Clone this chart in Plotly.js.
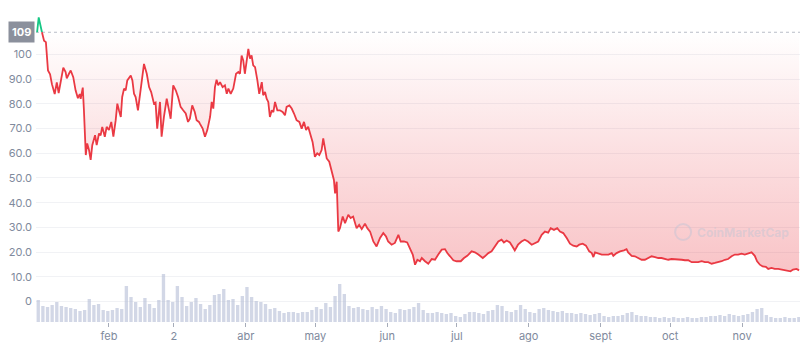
<!DOCTYPE html>
<html>
<head>
<meta charset="utf-8">
<script src="https://cdn.plot.ly/plotly-3.0.1.min.js"></script>
<style>html,body{margin:0;padding:0;background:#fff;}#chart{width:800px;height:344px;}</style>
</head>
<body>
<div id="chart"></div>
<script>
// Price series: day offset from 2022-01-01 and price
const priceDays = [0,0.7,2.1,3,3.8,4.7,5.6,6.4,7.6,8.5,
9.3,10.2,11.3,12.3,12.8,13.8,14.5,15.6,16.6,17.6,
18.4,18.8,19.7,20.2,21,21.6,22.4,23.1,23.8,25,
25.7,26.7,27.4,28.1,29.2,30,31,32,32.9,33.9,
34.6,35.3,36.1,36.7,37.5,38.2,38.9,40.4,41.1,41.8,
42.5,43.5,44.4,45.1,46.1,47.3,48.3,49.2,50.4,51.1,
51.8,53,53.7,54.7,55.9,56.9,57.6,58.7,59.8,60.8,
61.9,63,64.1,65.1,65.9,66.9,68,68.8,69.8,
70.2,71.4,72.4,73.4,74.6,75.3,76,76.7,77.4,78.1,
78.9,80,81,81.8,82.5,83.5,84.6,85.8,86.8,87.5,
88.2,88.9,89.6,90.4,91.1,91.8,92.5,93.2,94,95,
95.8,96.9,97.5,98.3,99,99.7,100.4,101.2,101.9,102.6,
103.6,104.7,105.9,106.9,107.6,108.8,109.8,110.8,111.9,113.1,
114.1,115.1,116,116.9,117.7,118.8,119.8,120.8,121.7,122.7,
123.4,124.1,124.9,126,127,128,128.5,129.2,129.9,130.6,
131.8,132.8,134.2,135.2,136.3,137.8,138.9,140,141.4,142.4,
143.6,145,146.4,147.9,149.3,150.5,151.4,152.9,154.3,155.8,
156.8,158.2,159.6,160.8,162,163,164,165.1,165.9,167.3,
168.7,170.2,171.6,173,174.5,175.9,176.9,178.1,179.5,180.9,
182.7,184.1,185.5,187.4,188.8,190.3,192.2,193.1,194.6,196,
197.5,198.9,200.3,201.3,202.5,203.9,205,206,207.4,208.9,
210.3,211.7,213.3,214.7,216.1,217.6,219,220.4,221.5,222.9,
224.3,225.5,226.9,228.4,229.8,231.2,232.7,233.8,235.3,236.7,
238.1,239.2,239.9,240.6,242,243.5,244.9,246.4,247.8,248.5,
249.9,251.4,253.1,254.2,254.9,256.4,257.8,259.3,260.7,262.1,
263.6,265,266.5,267.9,269.3,270.8,272.2,273.6,275.1,276.5,
278,279.4,280.8,282.3,283.7,285.1,286.6,288,289.4,290.9,
292.3,293.7,295.2,296.6,298,299.5,300.9,302.3,303.8,305.2,
306.7,308.1,309.5,310.5,311.7,312.9,314.3,315.3,316.7,318.1,
319.6,321,322.4,323.8,324.9,326,327.5,328.6];

const prices = [109,115,109,105.6,105,93.5,92,88,84,88.7,
84.4,88.8,94.7,92.9,90.3,92.3,93.5,90.8,85.5,82.3,
84,82,86.6,77.4,59.3,64,61.3,57.3,63.3,67.3,
63.3,68,67.3,70.7,66.7,70.7,69.4,72.7,66.7,73.4,
80.1,77.4,74.7,82.8,86.2,85.5,89.5,91.5,89.5,84.1,
82.8,77.4,84,90.8,96.2,92.2,86.8,84.8,80.1,80.5,
70,80.8,66.7,74.7,82.1,77.4,74,87.5,85.5,82.8,
78.8,77.4,76.1,72.7,74,79.4,76.7,73.4,72.7,
72,70,66.7,69.4,74.7,80.8,78.1,86.8,89.8,87.5,
88.8,86.8,87.5,84.1,86.2,84.1,86.2,92.2,92.9,92.2,
99.6,97.6,92.2,98.3,102.3,98.3,99.6,95.6,94.9,89.5,
84.1,88.8,83.5,84.8,82.1,80.8,74.7,77.4,76.7,80.8,
77.4,77.4,76.7,75.4,78.8,79.4,78.1,76.1,73.4,72.7,
70,72.7,69.4,70.7,68,64.6,58.6,60,59.3,61.3,
66,62.6,57.9,56.6,52.5,49.2,43.8,48.5,28.3,29.7,
34.4,31.7,35.1,33.8,34.4,29.7,31,29.3,31.5,29.7,
28.3,24.3,22.3,25.7,27.7,26.3,24.3,23,23.7,27,
24.3,24.3,23.9,21.6,19,14.9,16.9,16.3,17.6,16.3,
15.3,17.2,16.9,19,21,21.2,19.6,18.3,16.7,16.3,
16.3,17.6,18.5,20.3,19.9,19,17.6,18.3,19.6,20.3,
22.3,24.3,25,23.9,24.7,23.9,22.3,20.7,23,24.3,
25,24.3,23,23.7,24.3,27,28.3,27.9,29.7,29,
29.7,28.3,27.7,25.7,23.4,22.6,22.3,23,23.4,22.6,
20.3,19.6,18,19.9,19.4,19,19,19,19.6,18.5,
19.6,20.3,20.7,21.2,19.9,18.5,18.3,17.6,16.9,16.9,
17.6,18.3,18,17.6,17.6,17.2,16.9,17.2,17.2,17.2,
16.9,16.7,16.7,15.9,15.9,15.9,16.3,15.9,15.9,15.3,
15.6,15.9,16.3,16.9,17.2,18.3,19,19,19.4,19,
19.4,19.9,18.5,16.3,14.9,14.2,14,13.2,13.6,13.2,
13.2,12.9,12.6,12.2,12.2,12.9,13.2,12.6];

// Volume (relative units), one bar every 2 days starting 2022-01-01
const volumeStepDays = 2;
const volume = [22,16,15,17,20,16,15,14,13,11,
12,23,17,18,12,11,12,14,13,36,
25,20,15,24,18,14,22,48,22,20,
36,25,16,20,24,18,13,17,27,28,
33,22,23,17,26,35,25,21,20,18,
13,14,11,9,10,10,9,10,10,12,
15,13,19,15,26,38,28,16,14,15,
13,12,15,13,16,13,10,9,13,12,
13,15,19,12,9,9,10,9,8,9,
6,5,8,10,10,9,8,11,12,17,
16,11,10,12,17,13,10,9,13,14,
12,11,10,11,9,9,8,9,8,7,
8,9,6,5,6,6,7,9,10,7,
6,6,5,5,4,5,4,5,4,4,
5,4,4,5,5,6,6,7,6,8,
7,6,7,8,10,13,14,7,5,4,
4,5,4,4,5];

const monthTickDates = ['2022-02-01','2022-03-01','2022-04-01','2022-05-01','2022-06-01','2022-07-01','2022-08-01','2022-09-01','2022-10-01','2022-11-01'];
const monthTickText = ['feb','2','abr','may','jun','jul','ago','sept','oct','nov'];
const yTickVals = [0,10,20,30,40,50,60,70,80,90,100];
const yTickText = ['0','10.0','20.0','30.0','40.0','50.0','60.0','70.0','80.0','90.0','100'];

const T0 = Date.UTC(2022,0,1);
function toDate(d){ return new Date(T0 + d*864e5).toISOString().replace('T',' ').slice(0,19); }

const px = priceDays.map(toDate);
const startPrice = prices[0];
const baseline = prices.map(() => startPrice);
let splitIdx = 1;
while (splitIdx < prices.length && prices[splitIdx] > startPrice) splitIdx++;

const volX = volume.map((v,i) => toDate(i*volumeStepDays + 0.5));

const RED = '#ea3943', GREEN = '#16c784';
const traces = [
  {x: volX, y: volume, type:'bar', yaxis:'y2', marker:{color:'rgba(180,188,214,0.6)'},
   width: volumeStepDays*864e5*0.72, hoverinfo:'skip'},
  {x: px, y: baseline, type:'scatter', mode:'lines', line:{width:0}, hoverinfo:'skip'},
  {x: px, y: prices, type:'scatter', mode:'lines', fill:'tonexty', line:{width:0},
   fillgradient:{type:'vertical', start: 12, stop: startPrice,
     colorscale:[[0,'rgba(234,57,67,0.30)'],[0.5,'rgba(234,57,67,0.16)'],[1,'rgba(234,57,67,0.0)']]},
   hoverinfo:'skip'},
  {x: px.slice(0, splitIdx+1), y: prices.slice(0, splitIdx+1), type:'scatter', mode:'lines',
   line:{color:GREEN, width:1.8}},
  {x: px.slice(splitIdx), y: prices.slice(splitIdx), type:'scatter', mode:'lines',
   line:{color:RED, width:1.8}}
];

const layout = {
  width:800, height:344,
  margin:{l:36, r:0, t:0, b:22},
  paper_bgcolor:'#ffffff', plot_bgcolor:'#ffffff',
  showlegend:false,
  font:{family:'Inter, "Noto Sans", sans-serif', size:11, color:'#808a9d'},
  bargap:0.2,
  xaxis:{type:'date', range:[toDate(-0.47), toDate(329.0)], showgrid:false, zeroline:false,
    tickvals: monthTickDates, ticktext: monthTickText, ticks:'outside', ticklen:4,
    tickcolor:'#a6acb9', tickwidth:1, showline:false, tickfont:{size:11, color:'#808a9d'}},
  yaxis:{range:[-8.3, 122.06], tickvals:yTickVals, ticktext:yTickText, showgrid:true,
    gridcolor:'#f1f2f5', gridwidth:1, zeroline:false, showline:false, ticks:'',
    ticklabelstandoff:3, tickfont:{size:11, color:'#808a9d'}},
  yaxis2:{overlaying:'y', range:[0, 322], visible:false, showgrid:false, zeroline:false},
  shapes:[
    {type:'line', xref:'paper', x0:0, x1:1, yref:'y', y0:startPrice, y1:startPrice,
     line:{color:'#b9bdc7', width:1, dash:'dot'}, layer:'below'},
    {type:'circle', xref:'paper', yref:'paper', xsizemode:'pixel', ysizemode:'pixel',
     xanchor:0.847, yanchor:0.2795, x0:-8, x1:8, y0:-8, y1:8,
     line:{color:'rgba(190,196,212,0.45)', width:2}}
  ],
  annotations:[
    {xref:'paper', x:0, xanchor:'right', yref:'y', y:startPrice, yanchor:'middle',
     text:'<b>'+String(startPrice)+'</b>', showarrow:false, bgcolor:'#8b909c',
     font:{color:'#ffffff', size:11}, borderpad:3, xshift:-1},
    {xref:'paper', x:0.862, xanchor:'left', yref:'paper', y:0.2795, yanchor:'middle',
     text:'<b>CoinMarketCap</b>', showarrow:false,
     font:{color:'rgba(190,196,212,0.45)', size:12}}
  ]
};

Plotly.newPlot('chart', traces, layout, {displayModeBar:false, staticPlot:true});
</script>
</body>
</html>
